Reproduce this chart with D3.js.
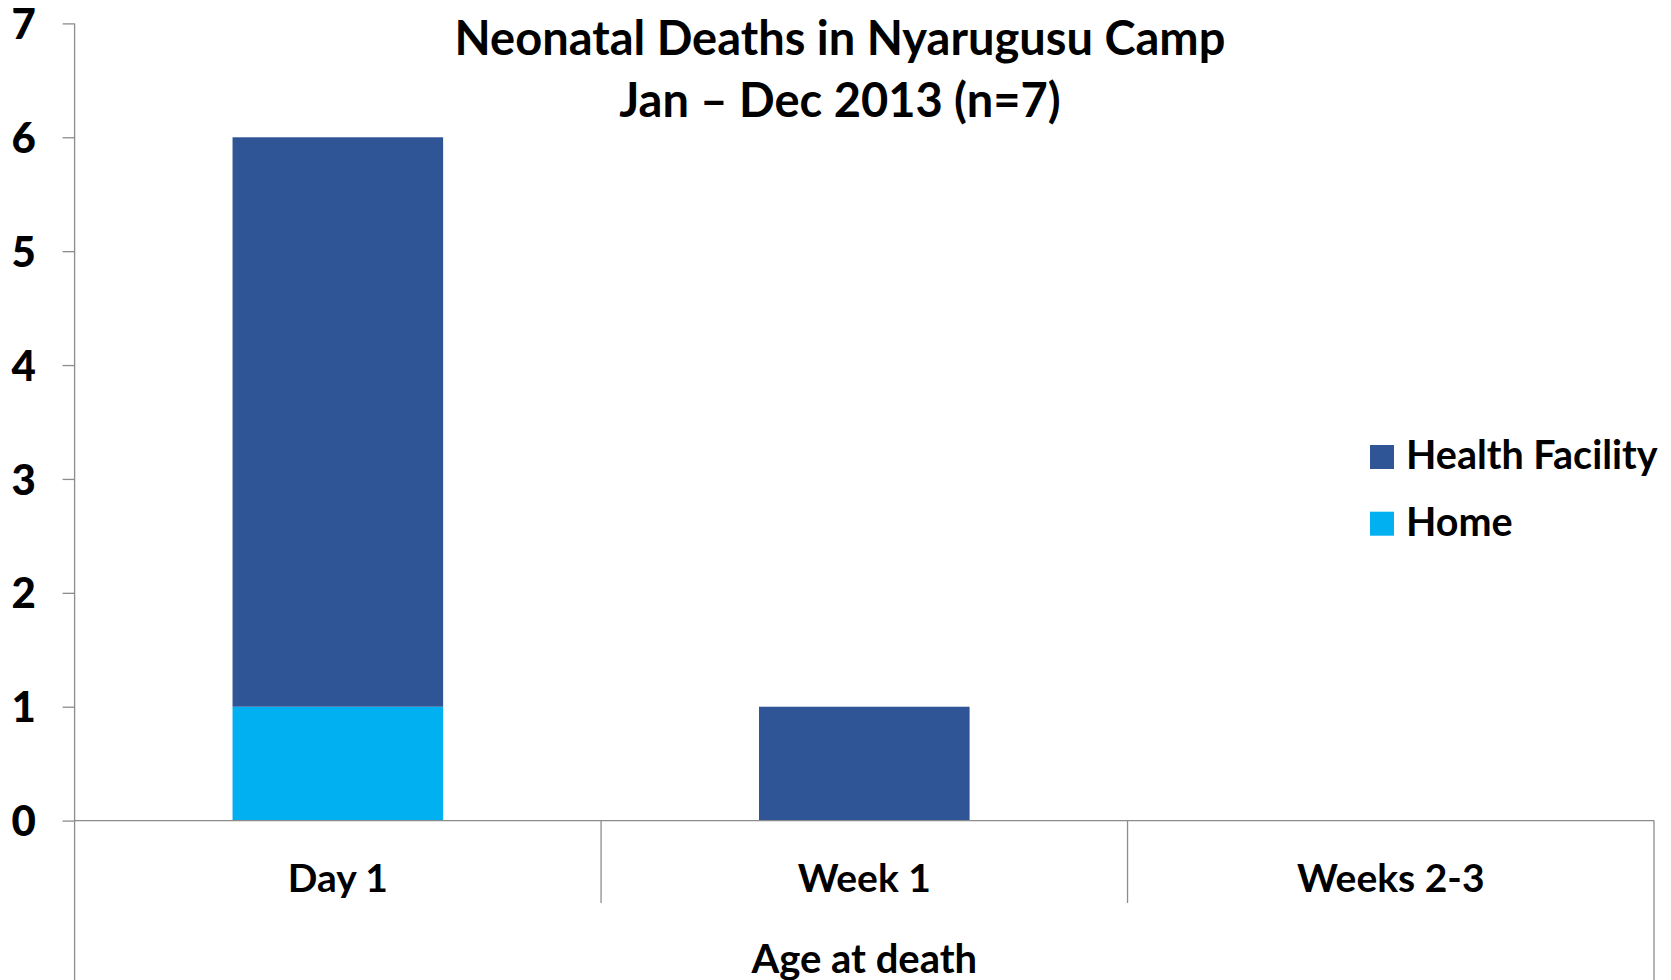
<!DOCTYPE html>
<html>
<head>
<meta charset="utf-8">
<script src="https://cdn.jsdelivr.net/npm/d3@7"></script>
<style>
  html, body { margin: 0; padding: 0; background: #fff; }
  svg { display: block; }
  text { font-family: Lato, "Open Sans", sans-serif; font-weight: bold; fill: #000; }
</style>
</head>
<body>
<svg id="chart" width="1671" height="980"></svg>
<script>
const categories = ["Day 1", "Week 1", "Weeks 2-3"];
const seriesNames = ["Home", "Health Facility"];
const homeValues = [1, 0, 0];
const healthFacilityValues = [5, 1, 0];
const yTicks = [0, 1, 2, 3, 4, 5, 6, 7];
const titleLines = ["Neonatal Deaths in Nyarugusu Camp", "Jan \u2013 Dec 2013 (n=7)"];
const axisTitle = "Age at death";
const legendOrder = ["Health Facility", "Home"];

const colors = { "Health Facility": "#2F5597", "Home": "#00B0F0" };
const axisColor = "#8C8C8C";

const W = 1671, H = 980;
const plot = { left: 74.6, right: 1654, top: 23.4, bottom: 820.6 };

const svg = d3.select("#chart");

const x = d3.scaleBand().domain(categories)
  .range([plot.left, plot.right]).paddingInner(0.6).paddingOuter(0.3);
const y = d3.scaleLinear().domain([0, 7]).range([plot.bottom, plot.top]);

// data table
const table = categories.map((c, i) => ({ cat: c, "Home": homeValues[i], "Health Facility": healthFacilityValues[i] }));
const stacked = d3.stack().keys(seriesNames)(table);

// bars
svg.append("g").selectAll("g").data(stacked).join("g")
  .attr("fill", d => colors[d.key])
  .selectAll("rect").data(d => d.filter(p => p[1] - p[0] > 0)).join("rect")
  .attr("x", d => x(d.data.cat))
  .attr("width", x.bandwidth())
  .attr("y", d => y(d[1]))
  .attr("height", d => y(d[0]) - y(d[1]));

// y axis
const yAxis = d3.axisLeft(y).tickValues(yTicks).tickSize(12).tickFormat(d3.format("d"));
const gy = svg.append("g").attr("transform", `translate(${plot.left},0)`).call(yAxis);
gy.select(".domain").remove();
gy.selectAll(".tick line").attr("stroke", axisColor).attr("stroke-width", 1.3);
gy.selectAll(".tick text").attr("x", -51).attr("text-anchor", "middle")
  .style("font-size", "42px").style("font-weight", "900").attr("dy", "0.36em");
// y axis line extends to bottom of chart
svg.append("line").attr("x1", plot.left).attr("x2", plot.left)
  .attr("y1", plot.top).attr("y2", H).attr("stroke", axisColor).attr("stroke-width", 1.3);

// x axis line
svg.append("line").attr("x1", plot.left).attr("x2", plot.right)
  .attr("y1", plot.bottom).attr("y2", plot.bottom).attr("stroke", axisColor).attr("stroke-width", 1.3);
// category dividers
const step = x.step();
const bounds = categories.map((c, i) => plot.left + step * (i + 1));
svg.append("g").selectAll("line").data(bounds.slice(0, -1)).join("line")
  .attr("x1", d => d).attr("x2", d => d)
  .attr("y1", plot.bottom).attr("y2", 903)
  .attr("stroke", axisColor).attr("stroke-width", 1.3);
svg.append("line").attr("x1", plot.right).attr("x2", plot.right)
  .attr("y1", plot.bottom).attr("y2", H).attr("stroke", axisColor).attr("stroke-width", 1.3);

// category labels
svg.append("g").selectAll("text").data(categories).join("text")
  .attr("x", d => x(d) + x.bandwidth() / 2)
  .attr("y", 892)
  .attr("text-anchor", "middle")
  .style("font-size", "39px")
  .text(d => d);

// axis title
svg.append("text").attr("x", (plot.left + plot.right) / 2).attr("y", 973)
  .attr("text-anchor", "middle").style("font-size", "40px").text(axisTitle);

// title
svg.append("g").selectAll("text").data(titleLines).join("text")
  .attr("x", 840).attr("y", (d, i) => 55 + i * 62)
  .attr("text-anchor", "middle").style("font-size", "47px").text(d => d);

// legend
const lg = svg.append("g").selectAll("g").data(legendOrder).join("g")
  .attr("transform", (d, i) => `translate(1370,${445 + i * 66.7})`);
lg.append("rect").attr("width", 24).attr("height", 24).attr("fill", d => colors[d]);
lg.append("text").attr("x", 36).attr("y", 24).style("font-size", "39.5px").text(d => d);
</script>
</body>
</html>
